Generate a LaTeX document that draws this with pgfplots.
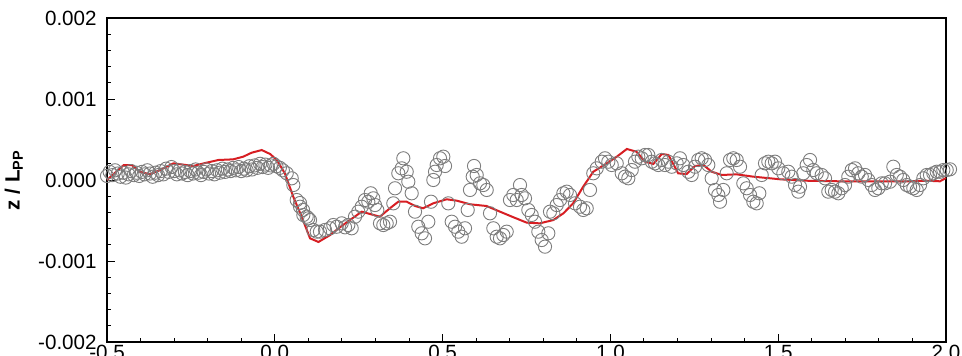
\documentclass[border=0pt]{standalone}
\usepackage{pgfplots}
\pgfplotsset{compat=1.18}
\usepackage{pgfplotstable}
\usepackage{fontspec}
\setmainfont{Liberation Sans}
\definecolor{cfdred}{RGB}{215,30,35}
\definecolor{expgray}{RGB}{125,125,125}

\pgfplotstableread{
x y
-0.500 0.000050
-0.492 0.000100
-0.484 0.000060
-0.476 0.000120
-0.468 0.000080
-0.460 0.000040
-0.452 0.000090
-0.444 0.000030
-0.436 0.000070
-0.428 0.000110
-0.420 0.000060
-0.412 0.000090
-0.404 0.000050
-0.396 0.000100
-0.388 0.000070
-0.380 0.000120
-0.372 0.000080
-0.364 0.000040
-0.356 0.000090
-0.348 0.000060
-0.340 0.000110
-0.332 0.000070
-0.324 0.000140
-0.316 0.000100
-0.308 0.000160
-0.300 0.000110
-0.292 0.000070
-0.284 0.000120
-0.276 0.000080
-0.268 0.000100
-0.260 0.000060
-0.252 0.000110
-0.244 0.000080
-0.236 0.000130
-0.228 0.000090
-0.220 0.000060
-0.212 0.000100
-0.204 0.000130
-0.196 0.000080
-0.188 0.000110
-0.180 0.000070
-0.172 0.000120
-0.164 0.000090
-0.156 0.000140
-0.148 0.000100
-0.140 0.000130
-0.132 0.000110
-0.124 0.000150
-0.116 0.000120
-0.108 0.000160
-0.100 0.000110
-0.092 0.000140
-0.084 0.000120
-0.076 0.000170
-0.068 0.000130
-0.060 0.000180
-0.052 0.000150
-0.044 0.000200
-0.036 0.000160
-0.028 0.000190
-0.020 0.000150
-0.012 0.000180
-0.004 0.000200
0.005 0.000170
0.015 0.000150
0.024 0.000120
0.0355 0.000083
0.0504 0.000021
0.0552 -0.000062
0.0653 -0.000247
0.0751 -0.000330
0.0751 -0.000284
0.0840 -0.000370
0.0850 -0.000432
0.0950 -0.000453
0.0998 -0.000473
0.1049 -0.000494
0.1147 -0.000617
0.1249 -0.000638
0.1347 -0.000638
0.1496 -0.000617
0.1645 -0.000596
0.1743 -0.000556
0.1845 -0.000577
0.1994 -0.000535
0.2092 -0.000584
0.2190 -0.000556
0.2291 -0.000596
0.2390 -0.000453
0.2488 -0.000391
0.2589 -0.000330
0.2688 -0.000247
0.2786 -0.000268
0.2858 -0.000164
0.2935 -0.000226
0.2986 -0.000309
0.3054 -0.000370
0.3135 -0.000535
0.3233 -0.000556
0.3334 -0.000535
0.3433 -0.000515
0.3531 -0.000288
0.3582 -0.000102
0.3680 0.000083
0.3781 0.000144
0.3829 0.000268
0.3930 0.000102
0.3978 -0.000021
0.4079 -0.000164
0.4178 -0.000391
0.4276 -0.000577
0.4377 -0.000658
0.4476 -0.000720
0.4574 -0.000515
0.4654 -0.000268
0.4723 0.000000
0.4774 0.000102
0.4824 0.000185
0.4923 0.000268
0.5021 0.000288
0.5072 0.000173
0.5170 -0.000288
0.5271 -0.000515
0.5370 -0.000577
0.5468 -0.000638
0.5569 -0.000700
0.5668 -0.000596
0.5748 -0.000370
0.5816 -0.000123
0.5897 0.000041
0.5936 0.000173
0.6016 0.000062
0.6114 -0.000041
0.6213 -0.000062
0.6314 -0.000123
0.6413 -0.000411
0.6511 -0.000596
0.6612 -0.000700
0.6710 -0.000720
0.6809 -0.000679
0.6910 -0.000638
0.7008 -0.000247
0.7107 -0.000185
0.7208 -0.000247
0.7306 -0.000062
0.7357 -0.000185
0.7455 -0.000226
0.7554 -0.000370
0.7655 -0.000432
0.7753 -0.000515
0.7852 -0.000638
0.7953 -0.000741
0.8051 -0.000823
0.8150 -0.000658
0.8200 -0.000391
0.8299 -0.000411
0.8400 -0.000309
0.8498 -0.000247
0.8597 -0.000164
0.8698 -0.000144
0.8796 -0.000185
0.8945 -0.000288
0.9094 -0.000330
0.9193 -0.000370
0.9294 -0.000349
0.9392 -0.000123
0.9490 0.000083
0.9592 0.000144
0.9741 0.000226
0.9839 0.000268
0.9938 0.000226
1.0039 0.000185
1.0188 0.000206
1.0337 0.000083
1.0435 0.000041
1.0534 0.000021
1.0635 0.000123
1.0733 0.000226
1.0831 0.000288
1.0933 0.000268
1.1031 0.000309
1.1129 0.000309
1.1231 0.000226
1.1329 0.000206
1.1427 0.000185
1.1529 0.000247
1.1627 0.000185
1.1725 0.000226
1.1827 0.000164
1.1975 0.000206
1.2074 0.000268
1.2172 0.000185
1.2321 0.000102
1.2422 0.000062
1.2521 0.000164
1.2619 0.000247
1.2720 0.000268
1.2819 0.000247
1.2917 0.000185
1.3018 0.000021
1.3117 -0.000123
1.3215 -0.000185
1.3266 -0.000268
1.3364 -0.000123
1.3465 0.000083
1.3564 0.000247
1.3662 0.000268
1.3763 0.000247
1.3862 0.000164
1.3960 -0.000041
1.4061 -0.000102
1.4160 -0.000185
1.4258 -0.000268
1.4359 -0.000288
1.4437 -0.000164
1.4508 0.000062
1.4607 0.000206
1.4705 0.000226
1.4806 0.000206
1.4905 0.000226
1.5003 0.000144
1.5152 0.000083
1.5301 0.000102
1.5402 0.000041
1.5501 -0.000062
1.5599 -0.000144
1.5650 -0.000083
1.5748 0.000083
1.5849 0.000185
1.5948 0.000247
1.6046 0.000123
1.6148 0.000083
1.6296 0.000062
1.6395 0.000021
1.6493 -0.000144
1.6594 -0.000123
1.6693 -0.000144
1.6791 -0.000164
1.6892 -0.000102
1.6991 -0.000062
1.7089 0.000041
1.7190 0.000123
1.7289 0.000144
1.7387 0.000083
1.7489 0.000041
1.7587 0.000062
1.7685 0.000000
1.7787 -0.000062
1.7885 -0.000123
1.7983 -0.000102
1.8085 -0.000041
1.8183 -0.000041
1.8332 -0.000021
1.8430 0.000164
1.8532 0.000062
1.8630 0.000041
1.8728 0.000000
1.8830 -0.000062
1.8928 -0.000083
1.9026 -0.000102
1.9127 -0.000123
1.9226 -0.000062
1.9324 0.000021
1.9425 0.000062
1.9523 0.000062
1.9622 0.000083
1.9723 0.000102
1.9821 0.000102
1.9920 0.000123
2.0021 0.000123
2.0119 0.000132
}\expdata

\pgfplotstableread{
x y
-0.500 0.000000
-0.450 0.000185
-0.426 0.000185
-0.402 0.000102
-0.372 0.000070
-0.342 0.000123
-0.302 0.000206
-0.243 0.000173
-0.203 0.000214
-0.168 0.000247
-0.124 0.000255
-0.094 0.000288
-0.069 0.000337
-0.039 0.000370
-0.014 0.000321
0.006 0.000247
0.030 0.000082
0.055 -0.000206
0.080 -0.000453
0.105 -0.000720
0.130 -0.000765
0.165 -0.000679
0.194 -0.000584
0.224 -0.000494
0.259 -0.000391
0.284 -0.000420
0.313 -0.000453
0.343 -0.000349
0.368 -0.000268
0.393 -0.000268
0.418 -0.000321
0.442 -0.000349
0.472 -0.000288
0.512 -0.000238
0.542 -0.000255
0.582 -0.000300
0.631 -0.000321
0.671 -0.000391
0.711 -0.000460
0.751 -0.000527
0.790 -0.000535
0.830 -0.000494
0.860 -0.000411
0.889 -0.000288
0.919 -0.000082
0.949 0.000102
0.989 0.000206
1.019 0.000288
1.049 0.000383
1.078 0.000349
1.103 0.000226
1.128 0.000198
1.153 0.000321
1.173 0.000309
1.202 0.000082
1.227 0.000074
1.252 0.000173
1.277 0.000185
1.302 0.000102
1.332 0.000062
1.376 0.000070
1.426 0.000041
1.476 0.000021
1.505 0.000009
1.585 -0.000009
1.684 -0.000016
1.783 -0.000016
1.883 -0.000016
1.942 -0.000009
1.982 -0.000016
2.000 0.000025
}\cfddata

\begin{document}
\begin{tikzpicture}
\useasboundingbox (-53.5pt,-6.5pt) rectangle (427.5pt,171pt);
\clip (-53.5pt,-6.5pt) rectangle (427.5pt,171pt);
\begin{axis}[
  at={(0pt,0pt)}, anchor=south west,
  scale only axis, width=419.5pt, height=162pt,
  xmin=-0.5, xmax=2.0, ymin=-0.002, ymax=0.002,
  clip=false,
  font=\fontsize{10.3}{12}\selectfont,
  axis line style={line width=1pt},
  tick pos=left, tick align=inside,
  major tick length=4pt, minor tick length=2pt,
  every tick/.style={black, line width=0.5pt},
  xtick={-0.5,0,0.5,1.0,1.5,2.0},
  xticklabels={-0.5,0.0,0.5,1.0,1.5,2.0},
  ytick={-0.002,-0.001,0,0.001,0.002},
  yticklabels={-0.002,-0.001,0.000,0.001,0.002},
  scaled x ticks=false, scaled y ticks=false,
  minor x tick num=4, minor y tick num=4,
  xticklabel style={inner sep=0pt, yshift=-1.5pt},
  yticklabel style={inner sep=0pt, xshift=-5pt},
  ylabel={\bfseries z / L\textsubscript{PP}},
  ylabel style={at={(axis description cs:-0.104,0.5)}, anchor=base},
]
\addplot[only marks, mark=o, mark size=3.3pt, color=expgray,
  mark options={line width=0.45pt}] table[x=x,y=y]{\expdata};
\addplot[cfdred, line width=1pt, no marks] table[x=x,y=y]{\cfddata};
\end{axis}
\end{tikzpicture}
\end{document}
